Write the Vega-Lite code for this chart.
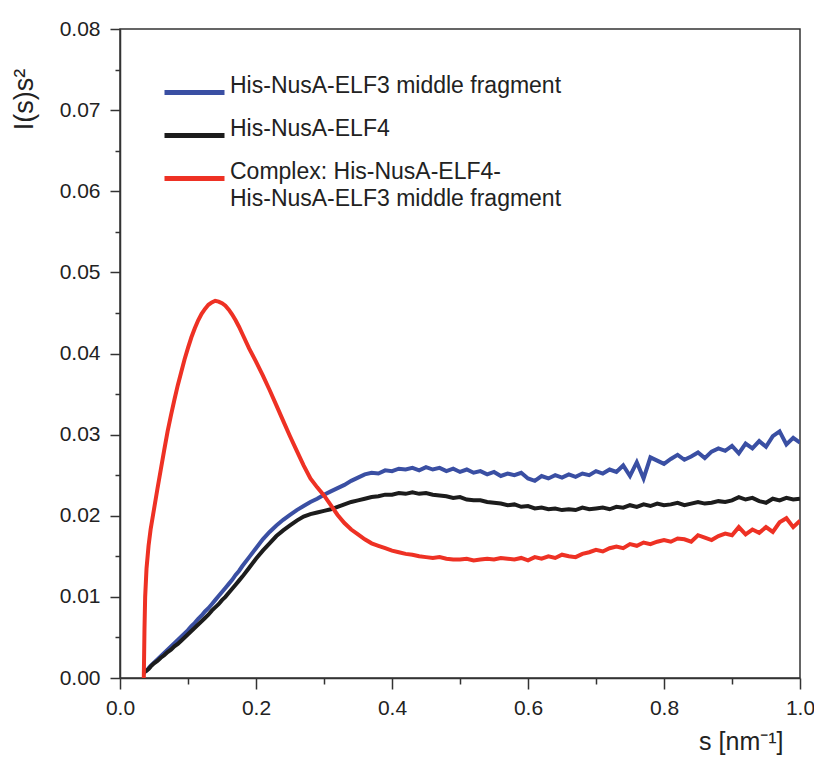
{
  "$schema": "https://vega.github.io/schema/vega-lite/v6.json",
  "width": 680,
  "height": 649,
  "autosize": {"type": "none"},
  "padding": {"left": 120, "top": 29, "right": 14, "bottom": 80},
  "background": "white",
  "view": {"stroke": "#333", "strokeWidth": 1.5},
  "config": {
    "axis": {"domainColor": "#333", "domainWidth": 1.5, "tickColor": "#333", "tickWidth": 1.5, "labelFont": "Liberation Sans", "labelFontSize": 21, "labelColor": "#222", "titleFont": "Liberation Sans", "titleFontSize": 25, "titleFontWeight": "normal", "titleColor": "#222", "grid": false},
    "style": {"guide-label": {"lineHeight": 27}}
  },
  "data": {"values": [
    {"s":0.035,"elf3":0.0006,"elf4":0.0006,"complex":0},
    {"s":0.036,"elf3":0.0007,"elf4":0.0007,"complex":0.006},
    {"s":0.037,"elf3":0.0008,"elf4":0.0008,"complex":0.010},
    {"s":0.039,"elf3":0.0009,"elf4":0.0009,"complex":0.0135},
    {"s":0.042,"elf3":0.0012,"elf4":0.0011,"complex":0.0163},
    {"s":0.045,"elf3":0.0015,"elf4":0.0014,"complex":0.0183},
    {"s":0.05,"elf3":0.0019,"elf4":0.0018,"complex":0.0208},
    {"s":0.055,"elf3":0.0023,"elf4":0.0021,"complex":0.0233},
    {"s":0.06,"elf3":0.0027,"elf4":0.0025,"complex":0.0257},
    {"s":0.065,"elf3":0.0031,"elf4":0.0028,"complex":0.0281},
    {"s":0.07,"elf3":0.0035,"elf4":0.0032,"complex":0.0304},
    {"s":0.075,"elf3":0.0039,"elf4":0.0035,"complex":0.0324},
    {"s":0.08,"elf3":0.0043,"elf4":0.0039,"complex":0.0343},
    {"s":0.085,"elf3":0.0047,"elf4":0.0042,"complex":0.0361},
    {"s":0.09,"elf3":0.0051,"elf4":0.0046,"complex":0.0377},
    {"s":0.095,"elf3":0.0055,"elf4":0.0050,"complex":0.0393},
    {"s":0.10,"elf3":0.0059,"elf4":0.0054,"complex":0.0407},
    {"s":0.105,"elf3":0.0064,"elf4":0.0058,"complex":0.0420},
    {"s":0.11,"elf3":0.0068,"elf4":0.0062,"complex":0.0431},
    {"s":0.115,"elf3":0.0073,"elf4":0.0066,"complex":0.0441},
    {"s":0.12,"elf3":0.0077,"elf4":0.0070,"complex":0.0449},
    {"s":0.125,"elf3":0.0082,"elf4":0.0074,"complex":0.0455},
    {"s":0.13,"elf3":0.0086,"elf4":0.0078,"complex":0.0460},
    {"s":0.135,"elf3":0.0091,"elf4":0.0083,"complex":0.0463},
    {"s":0.14,"elf3":0.0096,"elf4":0.0087,"complex":0.0465},
    {"s":0.145,"elf3":0.0101,"elf4":0.0091,"complex":0.0464},
    {"s":0.15,"elf3":0.0106,"elf4":0.0096,"complex":0.0462},
    {"s":0.155,"elf3":0.0111,"elf4":0.0100,"complex":0.0459},
    {"s":0.16,"elf3":0.0116,"elf4":0.0105,"complex":0.0454},
    {"s":0.165,"elf3":0.0121,"elf4":0.0110,"complex":0.0448},
    {"s":0.17,"elf3":0.0127,"elf4":0.0115,"complex":0.0441},
    {"s":0.175,"elf3":0.0132,"elf4":0.0120,"complex":0.0433},
    {"s":0.18,"elf3":0.0138,"elf4":0.0125,"complex":0.0424},
    {"s":0.19,"elf3":0.0149,"elf4":0.0136,"complex":0.0406},
    {"s":0.20,"elf3":0.0160,"elf4":0.0147,"complex":0.0390},
    {"s":0.21,"elf3":0.0171,"elf4":0.0157,"complex":0.0373},
    {"s":0.22,"elf3":0.0180,"elf4":0.0166,"complex":0.0355},
    {"s":0.23,"elf3":0.0188,"elf4":0.0175,"complex":0.0336},
    {"s":0.24,"elf3":0.0195,"elf4":0.0182,"complex":0.0317},
    {"s":0.25,"elf3":0.0201,"elf4":0.0188,"complex":0.0298},
    {"s":0.26,"elf3":0.0207,"elf4":0.0194,"complex":0.0280},
    {"s":0.27,"elf3":0.0212,"elf4":0.0199,"complex":0.0262},
    {"s":0.28,"elf3":0.0217,"elf4":0.0202,"complex":0.0246},
    {"s":0.29,"elf3":0.0221,"elf4":0.0204,"complex":0.0235},
    {"s":0.30,"elf3":0.0226,"elf4":0.0206,"complex":0.0225},
    {"s":0.31,"elf3":0.0230,"elf4":0.0208,"complex":0.0213},
    {"s":0.32,"elf3":0.0234,"elf4":0.0211,"complex":0.0201},
    {"s":0.33,"elf3":0.0238,"elf4":0.0214,"complex":0.0191},
    {"s":0.34,"elf3":0.0243,"elf4":0.0217,"complex":0.0183},
    {"s":0.35,"elf3":0.0247,"elf4":0.0219,"complex":0.0177},
    {"s":0.36,"elf3":0.0251,"elf4":0.0221,"complex":0.0171},
    {"s":0.37,"elf3":0.0253,"elf4":0.0223,"complex":0.0166},
    {"s":0.38,"elf3":0.0252,"elf4":0.0224,"complex":0.0163},
    {"s":0.39,"elf3":0.0256,"elf4":0.0226,"complex":0.0160},
    {"s":0.40,"elf3":0.0255,"elf4":0.0226,"complex":0.0157},
    {"s":0.41,"elf3":0.0258,"elf4":0.0228,"complex":0.0155},
    {"s":0.42,"elf3":0.0257,"elf4":0.0227,"complex":0.0153},
    {"s":0.43,"elf3":0.0259,"elf4":0.0229,"complex":0.0152},
    {"s":0.44,"elf3":0.0256,"elf4":0.0227,"complex":0.0150},
    {"s":0.45,"elf3":0.0260,"elf4":0.0228,"complex":0.0149},
    {"s":0.46,"elf3":0.0257,"elf4":0.0226,"complex":0.0148},
    {"s":0.47,"elf3":0.0259,"elf4":0.0225,"complex":0.0149},
    {"s":0.48,"elf3":0.0255,"elf4":0.0224,"complex":0.0147},
    {"s":0.49,"elf3":0.0258,"elf4":0.0222,"complex":0.0146},
    {"s":0.50,"elf3":0.0254,"elf4":0.0223,"complex":0.0146},
    {"s":0.51,"elf3":0.0257,"elf4":0.0220,"complex":0.0147},
    {"s":0.52,"elf3":0.0253,"elf4":0.0219,"complex":0.0145},
    {"s":0.53,"elf3":0.0255,"elf4":0.0219,"complex":0.0146},
    {"s":0.54,"elf3":0.0251,"elf4":0.0217,"complex":0.0147},
    {"s":0.55,"elf3":0.0254,"elf4":0.0216,"complex":0.0146},
    {"s":0.56,"elf3":0.0249,"elf4":0.0215,"complex":0.0148},
    {"s":0.57,"elf3":0.0252,"elf4":0.0213,"complex":0.0147},
    {"s":0.58,"elf3":0.0250,"elf4":0.0214,"complex":0.0146},
    {"s":0.59,"elf3":0.0253,"elf4":0.0211,"complex":0.0148},
    {"s":0.60,"elf3":0.0246,"elf4":0.0212,"complex":0.0145},
    {"s":0.61,"elf3":0.0243,"elf4":0.0209,"complex":0.0149},
    {"s":0.62,"elf3":0.0249,"elf4":0.0210,"complex":0.0147},
    {"s":0.63,"elf3":0.0246,"elf4":0.0208,"complex":0.0150},
    {"s":0.64,"elf3":0.0250,"elf4":0.0209,"complex":0.0148},
    {"s":0.65,"elf3":0.0247,"elf4":0.0207,"complex":0.0152},
    {"s":0.66,"elf3":0.0251,"elf4":0.0208,"complex":0.0150},
    {"s":0.67,"elf3":0.0248,"elf4":0.0207,"complex":0.0149},
    {"s":0.68,"elf3":0.0252,"elf4":0.0210,"complex":0.0153},
    {"s":0.69,"elf3":0.0250,"elf4":0.0208,"complex":0.0155},
    {"s":0.70,"elf3":0.0255,"elf4":0.0209,"complex":0.0158},
    {"s":0.71,"elf3":0.0252,"elf4":0.0210,"complex":0.0156},
    {"s":0.72,"elf3":0.0257,"elf4":0.0208,"complex":0.0160},
    {"s":0.73,"elf3":0.0254,"elf4":0.0211,"complex":0.0162},
    {"s":0.74,"elf3":0.0262,"elf4":0.0210,"complex":0.0160},
    {"s":0.75,"elf3":0.0249,"elf4":0.0213,"complex":0.0165},
    {"s":0.76,"elf3":0.0266,"elf4":0.0211,"complex":0.0163},
    {"s":0.77,"elf3":0.0246,"elf4":0.0214,"complex":0.0167},
    {"s":0.78,"elf3":0.0272,"elf4":0.0212,"complex":0.0165},
    {"s":0.79,"elf3":0.0268,"elf4":0.0215,"complex":0.0168},
    {"s":0.80,"elf3":0.0264,"elf4":0.0213,"complex":0.0170},
    {"s":0.81,"elf3":0.0270,"elf4":0.0214,"complex":0.0168},
    {"s":0.82,"elf3":0.0275,"elf4":0.0216,"complex":0.0172},
    {"s":0.83,"elf3":0.0269,"elf4":0.0213,"complex":0.0171},
    {"s":0.84,"elf3":0.0273,"elf4":0.0215,"complex":0.0168},
    {"s":0.85,"elf3":0.0278,"elf4":0.0217,"complex":0.0176},
    {"s":0.86,"elf3":0.0271,"elf4":0.0215,"complex":0.0173},
    {"s":0.87,"elf3":0.0279,"elf4":0.0216,"complex":0.0170},
    {"s":0.88,"elf3":0.0283,"elf4":0.0218,"complex":0.0175},
    {"s":0.89,"elf3":0.0280,"elf4":0.0217,"complex":0.0178},
    {"s":0.90,"elf3":0.0286,"elf4":0.0219,"complex":0.0176},
    {"s":0.91,"elf3":0.0277,"elf4":0.0223,"complex":0.0186},
    {"s":0.92,"elf3":0.0289,"elf4":0.0220,"complex":0.0177},
    {"s":0.93,"elf3":0.0283,"elf4":0.0222,"complex":0.0183},
    {"s":0.94,"elf3":0.0292,"elf4":0.0218,"complex":0.0179},
    {"s":0.95,"elf3":0.0285,"elf4":0.0216,"complex":0.0186},
    {"s":0.96,"elf3":0.0298,"elf4":0.0221,"complex":0.0180},
    {"s":0.97,"elf3":0.0304,"elf4":0.0219,"complex":0.0192},
    {"s":0.98,"elf3":0.0288,"elf4":0.0222,"complex":0.0197},
    {"s":0.99,"elf3":0.0296,"elf4":0.0220,"complex":0.0186},
    {"s":1.00,"elf3":0.0290,"elf4":0.0221,"complex":0.0194}
  ]},
  "transform": [{"fold": ["elf3", "elf4", "complex"], "as": ["series", "I"]}],
  "mark": {"type": "line", "strokeWidth": 4, "clip": true},
  "encoding": {
    "x": {
      "field": "s", "type": "quantitative",
      "scale": {"domain": [0, 1], "nice": false, "zero": false},
      "axis": {
        "title": "s [nm⁻¹]",
        "values": [0, 0.1, 0.2, 0.3, 0.4, 0.5, 0.6, 0.7, 0.8, 0.9, 1.0],
        "labelExpr": "abs(datum.value*5 - round(datum.value*5)) < 0.001 ? format(datum.value, '.1f') : ''",
        "tickSize": {"condition": {"test": "abs(datum.value*5 - round(datum.value*5)) < 0.001", "value": 11}, "value": 6},
        "labelPadding": 8,
        "labelFlush": false,
        "titleAnchor": "end",
        "titleAlign": "right",
        "titleBaseline": "alphabetic",
        "titleX": 663,
        "titleY": 71
      }
    },
    "y": {
      "field": "I", "type": "quantitative",
      "scale": {"domain": [0, 0.08], "nice": false},
      "axis": {
        "title": "I(s)s²",
        "values": [0, 0.005, 0.01, 0.015, 0.02, 0.025, 0.03, 0.035, 0.04, 0.045, 0.05, 0.055, 0.06, 0.065, 0.07, 0.075, 0.08],
        "labelExpr": "abs(datum.value*100 - round(datum.value*100)) < 0.001 ? format(datum.value, '.2f') : ''",
        "tickSize": {"condition": {"test": "abs(datum.value*100 - round(datum.value*100)) < 0.001", "value": 10}, "value": 5},
        "labelPadding": 10,
        "labelFlush": false,
        "titleFontSize": 27,
        "titleAngle": -90,
        "titleAlign": "center",
        "titleBaseline": "alphabetic",
        "titleX": -88,
        "titleY": 70
      }
    },
    "color": {
      "field": "series", "type": "nominal",
      "scale": {"domain": ["elf3", "elf4", "complex"], "range": ["#3a4fa3", "#1c1c1c", "#ee3124"]},
      "legend": {
        "title": null,
        "orient": "none",
        "legendX": 42,
        "legendY": 31,
        "symbolType": "stroke",
        "symbolSize": 3600,
        "symbolStrokeWidth": 5,
        "labelFont": "Liberation Sans",
        "labelFontSize": 23,
        "labelColor": "#222",
        "labelLimit": 0,
        "labelOffset": 3,
        "labelBaseline": "alphabetic",
        "rowPadding": -28,
        "labelExpr": "datum.value == 'elf3' ? 'His-NusA-ELF3 middle fragment' : datum.value == 'elf4' ? 'His-NusA-ELF4' : ['Complex: His-NusA-ELF4-', 'His-NusA-ELF3 middle fragment']"
      }
    }
  }
}
